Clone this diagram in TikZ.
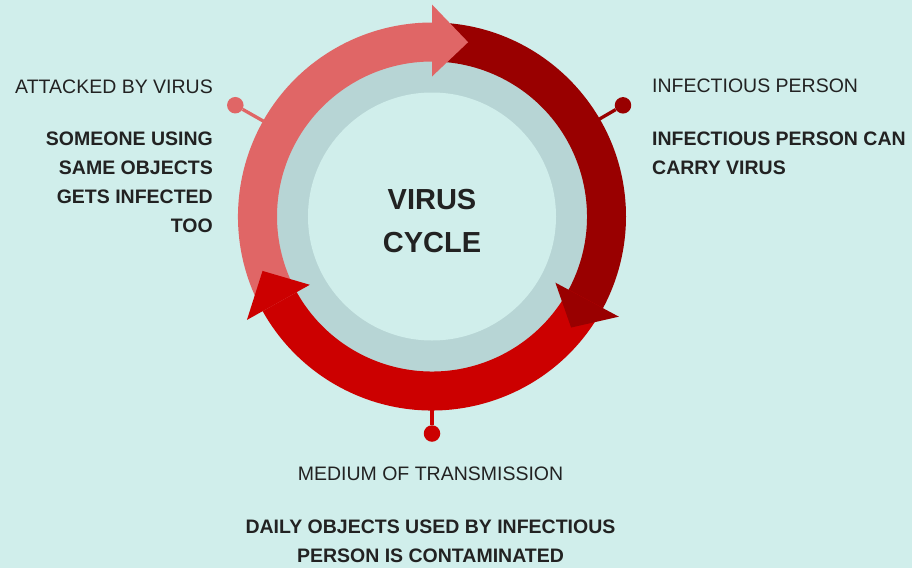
\documentclass[tikz,border=0pt]{standalone}
\usepackage{fontspec}
\setmainfont{Liberation Sans}
\definecolor{bgteal}{HTML}{D0EEEB}
\definecolor{bandgray}{HTML}{B7D5D5}
\definecolor{virpink}{HTML}{E06666}
\definecolor{virdark}{HTML}{990000}
\definecolor{virred}{HTML}{CC0000}
\definecolor{txt}{HTML}{222222}
\tikzset{
  stagetitle/.style={font=\fontsize{19.5}{29}\selectfont, text=txt, inner sep=0pt},
  stagetext/.style={font=\fontsize{19.5}{29}\selectfont\bfseries, text=txt, inner sep=0pt},
  pindot/.style={circle, inner sep=0pt, minimum size=16.5pt},
  pinline/.style={line width=3.3pt},
}
\begin{document}
\begin{tikzpicture}[x=1pt,y=1pt]
  \fill[bgteal] (-432,-351.5) rectangle (480,216.5);
  \fill[bandgray] (0,0) circle (157);
  \fill[bgteal] (0,0) circle (124);
  % ring pieces, then the heads on top
  \foreach \s/\b/\c in {90/-28.7/virdark, -28.2/-151.3/virred, 209.2/89.5/virpink}
    \fill[\c] (\s:194) arc[start angle=\s, end angle=\b, radius=194]
      -- (\b:155) arc[start angle=\b, end angle=\s, radius=155] -- cycle;
  \foreach \b/\t/\c in {-28.2/-38.6/virdark, -150.8/-162.2/virred, 90/78.3/virpink}
    \fill[\c] (\b:212) -- (\t:178) -- (\b:140) -- cycle;
  \node[font=\fontsize{29}{43}\selectfont\bfseries, text=txt, align=center, inner sep=0pt]
    (title) at (0,-5) {VIRUS\\CYCLE};
  % pins
  \coordinate (stemA) at (150.5:192);
  \coordinate (stemB) at (30.2:192);
  \coordinate (stemC) at (-90:192);
  \node[pindot, fill=virpink] (dotA) at (150.5:226) {};
  \node[pindot, fill=virdark] (dotB) at (30.2:221) {};
  \node[pindot, fill=virred] (dotC) at (-90:217) {};
  \draw[pinline, virpink] (stemA) -- (dotA);
  \draw[pinline, virdark] (stemB) -- (dotB);
  \draw[pinline, virred] (stemC) -- (dotC);
  % labels
  \node[stagetitle, anchor=east] (attacked) at (-219,129.5) {ATTACKED BY VIRUS};
  \node[stagetext, anchor=east, align=right] (attackedtext) at (-219,34)
    {SOMEONE USING\\SAME OBJECTS\\GETS INFECTED\\TOO};
  \node[stagetitle, anchor=west] (infectious) at (220,130.5) {INFECTIOUS PERSON};
  \node[stagetext, anchor=west, align=left] (infectioustext) at (220,63.5)
    {INFECTIOUS PERSON CAN\\CARRY VIRUS};
  \node[stagetitle] (medium) at (-1.5,-257.5) {MEDIUM OF TRANSMISSION};
  \node[stagetext, align=center] (mediumtext) at (-1.5,-324.5)
    {DAILY OBJECTS USED BY INFECTIOUS\\PERSON IS CONTAMINATED};
\end{tikzpicture}
\end{document}
